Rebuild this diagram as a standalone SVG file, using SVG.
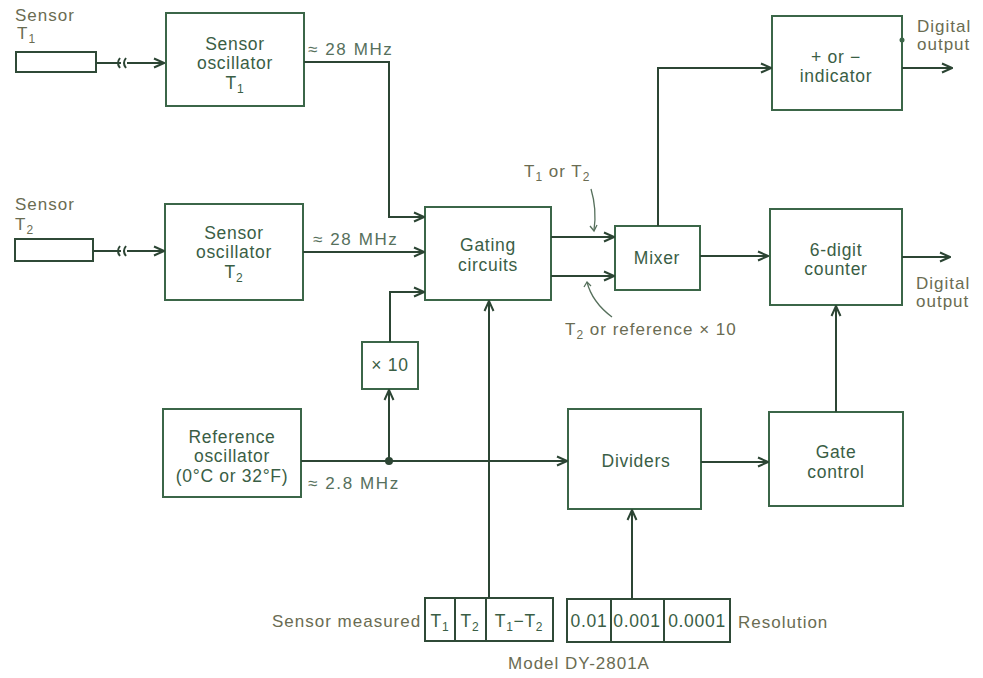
<svg xmlns="http://www.w3.org/2000/svg" width="983" height="678" viewBox="0 0 983 678">
<style>
.box{fill:#fff;stroke:#3b6648;stroke-width:2}
.ln{fill:none;stroke:#2c4534;stroke-width:2}
.t{font-family:"Liberation Sans",Arial,sans-serif;font-size:17.5px;fill:#3a5e45;text-anchor:middle;letter-spacing:0.7px}
.lbl{font-family:"Liberation Sans",Arial,sans-serif;font-size:17px;fill:#6a6c52;letter-spacing:1px}
.fq{font-family:"Liberation Sans",Arial,sans-serif;font-size:17px;fill:#56705c;letter-spacing:1.6px}
.sw{fill:none;stroke:#2f4a37;stroke-width:2}
</style>
<defs>
<marker id="ar" viewBox="0 0 12 12" refX="11" refY="6" markerWidth="12" markerHeight="12" markerUnits="userSpaceOnUse" orient="auto">
<path d="M1,1.5 L11,6 L1,10.5" fill="none" stroke="#2c4534" stroke-width="2"/>
</marker>
</defs>
<rect width="983" height="678" fill="#fff"/>

<g id="sensorT1">
<text class="lbl" x="15" y="21">Sensor</text>
<text class="lbl" x="17" y="39">T<tspan font-size="12" dy="4">1</tspan></text>
<rect class="sw" x="16" y="52" width="80" height="20"/>
</g>
<g id="sensorT2">
<text class="lbl" x="15" y="210">Sensor</text>
<text class="lbl" x="15" y="230">T<tspan font-size="12" dy="4">2</tspan></text>
<rect class="sw" x="15" y="239" width="78" height="22"/>
</g>

<g id="oscT1">
<rect class="box" x="166" y="13" width="138" height="93"/>
<text class="t" x="235" y="50">Sensor</text>
<text class="t" x="235" y="69">oscillator</text>
<text class="t" x="235" y="89">T<tspan font-size="12" dy="4">1</tspan></text>
</g>
<g id="oscT2">
<rect class="box" x="165" y="204" width="138" height="96"/>
<text class="t" x="234" y="239">Sensor</text>
<text class="t" x="234" y="258">oscillator</text>
<text class="t" x="234" y="278">T<tspan font-size="12" dy="4">2</tspan></text>
</g>
<g id="gating">
<rect class="box" x="425" y="207" width="126" height="93"/>
<text class="t" x="488" y="251">Gating</text>
<text class="t" x="488" y="271">circuits</text>
</g>
<g id="x10">
<rect class="box" x="362" y="342" width="56" height="47"/>
<text class="t" x="390" y="371">× 10</text>
</g>
<g id="refosc">
<rect class="box" x="163" y="409" width="138" height="88"/>
<text class="t" x="232" y="443">Reference</text>
<text class="t" x="232" y="462">oscillator</text>
<text class="t" x="232" y="482" letter-spacing="1.2px">(0°C or 32°F)</text>
</g>
<g id="mixer">
<rect class="box" x="615" y="226" width="85" height="64"/>
<text class="t" x="657" y="264">Mixer</text>
</g>
<g id="indicator">
<rect class="box" x="772" y="16" width="130" height="94"/>
<text class="t" x="836" y="63">+ or −</text>
<text class="t" x="836" y="82">indicator</text>
<circle cx="902" cy="40" r="2.5" fill="#3b6648"/>
</g>
<g id="counter">
<rect class="box" x="770" y="209" width="132" height="96"/>
<text class="t" x="836" y="256">6-digit</text>
<text class="t" x="836" y="275">counter</text>
</g>
<g id="dividers">
<rect class="box" x="568" y="409" width="133" height="100"/>
<text class="t" x="636" y="467">Dividers</text>
</g>
<g id="gatecontrol">
<rect class="box" x="769" y="412" width="134" height="94"/>
<text class="t" x="836" y="458">Gate</text>
<text class="t" x="836" y="478">control</text>
</g>
<g id="sensorSwitch">
<text class="lbl" x="272" y="627">Sensor measured</text>
<rect class="sw" x="425" y="598" width="128" height="43"/>
<line class="sw" x1="455" y1="598" x2="455" y2="641"/>
<line class="sw" x1="486" y1="598" x2="486" y2="641"/>
<text class="t" x="440" y="627">T<tspan font-size="12" dy="4">1</tspan></text>
<text class="t" x="470" y="627">T<tspan font-size="12" dy="4">2</tspan></text>
<text class="t" x="519" y="627" letter-spacing="0.3px">T<tspan font-size="12" dy="4">1</tspan><tspan dy="-4">−T</tspan><tspan font-size="12" dy="4">2</tspan></text>
</g>
<g id="resolutionSwitch">
<rect class="sw" x="567" y="599" width="163" height="43"/>
<line class="sw" x1="611" y1="599" x2="611" y2="642"/>
<line class="sw" x1="664" y1="599" x2="664" y2="642"/>
<text class="t" x="589" y="627" letter-spacing="0">0.01</text>
<text class="t" x="637" y="627" letter-spacing="0">0.001</text>
<text class="t" x="697" y="627" letter-spacing="0">0.0001</text>
<text class="lbl" x="738" y="628">Resolution</text>
</g>

<g id="labels">
<text class="fq" x="308" y="55">≈ 28 MHz</text>
<text class="fq" x="313" y="245">≈ 28 MHz</text>
<text class="fq" x="308" y="489">≈ 2.8 MHz</text>
<text class="lbl" x="524" y="177">T<tspan font-size="12" dy="4">1</tspan><tspan dy="-4"> or T</tspan><tspan font-size="12" dy="4">2</tspan></text>
<text class="lbl" x="565" y="335" letter-spacing="1.8px">T<tspan font-size="12" dy="4">2</tspan><tspan dy="-4"> or reference × 10</tspan></text>
<text class="lbl" x="917" y="32">Digital</text>
<text class="lbl" x="917" y="50">output</text>
<text class="lbl" x="916" y="289">Digital</text>
<text class="lbl" x="916" y="307">output</text>
<text class="lbl" x="579" y="669" text-anchor="middle" letter-spacing="1.4px">Model DY-2801A</text>
</g>

<g id="connectors">
<path class="ln" d="M96,63 H121 M127,63 H164" marker-end="url(#ar)"/>
<path class="ln" d="M120,58 q-4,5 0,10 M126,58 q-4,5 0,10"/>
<path class="ln" d="M93,251 H121 M127,251 H164" marker-end="url(#ar)"/>
<path class="ln" d="M120,246 q-4,5 0,10 M126,246 q-4,5 0,10"/>
<path class="ln" d="M304,62 H389 V217 H424" marker-end="url(#ar)"/>
<path class="ln" d="M303,252 H424" marker-end="url(#ar)"/>
<path class="ln" d="M390,342 V292 H424" marker-end="url(#ar)"/>
<path class="ln" d="M301,461 H567" marker-end="url(#ar)"/>
<circle cx="389" cy="461" r="4" fill="#2c4534"/>
<path class="ln" d="M389,461 V390" marker-end="url(#ar)"/>
<path class="ln" d="M551,237 H614" marker-end="url(#ar)"/>
<path class="ln" d="M551,276 H614" marker-end="url(#ar)"/>
<path class="ln" d="M700,256 H768" marker-end="url(#ar)"/>
<path class="ln" d="M658,226 V68 H771" marker-end="url(#ar)"/>
<path class="ln" d="M902,68 H952" marker-end="url(#ar)"/>
<path class="ln" d="M902,257 H950" marker-end="url(#ar)"/>
<path class="ln" d="M701,462 H768" marker-end="url(#ar)"/>
<path class="ln" d="M836,412 V306" marker-end="url(#ar)"/>
<path class="ln" d="M489,598 V301" marker-end="url(#ar)"/>
<path class="ln" d="M632,599 V510" marker-end="url(#ar)"/>
<path d="M591,189 q6,20 3,41" fill="none" stroke="#56705c" stroke-width="1.3"/>
<path d="M590,226 l4,5 l3,-6" fill="none" stroke="#56705c" stroke-width="1.3"/>
<path d="M612,317 q-20,-15 -25,-35" fill="none" stroke="#56705c" stroke-width="1.3"/>
<path d="M584,287 l3,-5 l4,4" fill="none" stroke="#56705c" stroke-width="1.3"/>
</g>
</svg>
